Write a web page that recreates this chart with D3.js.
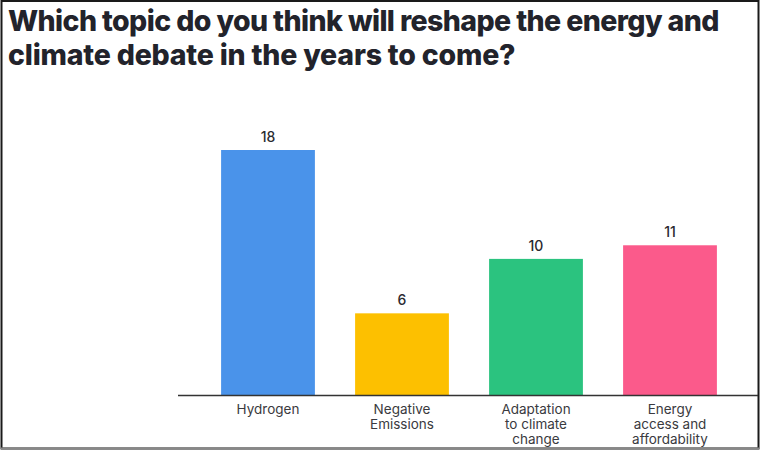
<!DOCTYPE html>
<html><head><meta charset="utf-8">
<script src="https://cdn.jsdelivr.net/npm/d3@7"></script>
<style>html,body{margin:0;padding:0;background:#fff;}</style>
</head><body>
<script>
const titleLines = ["Which topic do you think will reshape the energy and", "climate debate in the years to come?"];
const categories = [["Hydrogen"], ["Negative", "Emissions"], ["Adaptation", "to climate", "change"], ["Energy", "access and", "affordability"]];
const values = [18, 6, 10, 11];
const colors = ["#4a93ea", "#fdc000", "#2bc37f", "#fb5a8b"];

const W = 761, H = 451;
const svg = d3.select("body").append("svg").attr("width", W).attr("height", H);
svg.append("rect").attr("width", W).attr("height", H).attr("fill", "#fff");
// frame
svg.append("rect").attr("x", 1.5).attr("y", 1).attr("width", 757).attr("height", 447.5)
  .attr("fill", "none").attr("stroke", "#1a1a1a").attr("stroke-width", 2);
svg.append("line").attr("x1", 1).attr("x2", 759).attr("y1", 448.5).attr("y2", 448.5).attr("stroke", "#888").attr("stroke-width", 2);

const spacing = [-0.6, -0.2];
const title = svg.append("g");
titleLines.forEach((t, i) => {
  title.append("text").attr("x", 8).attr("y", 31 + i * 34)
    .attr("font-family", "Inter, 'Noto Sans', sans-serif").attr("font-weight", 800)
    .attr("font-size", 28.5).attr("letter-spacing", spacing[i]).attr("fill", "#22232b")
    .text(t);
});

const baseY = 395;
const x = d3.scaleBand().domain(d3.range(values.length)).range([201, 737]).paddingInner(0.3).paddingOuter(0.15);
const y = d3.scaleLinear().domain([0, 18]).range([baseY, 150]);

svg.selectAll("rect.bar").data(values).join("rect").attr("class", "bar")
  .attr("x", (d, i) => x(i)).attr("width", x.bandwidth())
  .attr("y", d => y(d)).attr("height", d => baseY - y(d))
  .attr("fill", (d, i) => colors[i]);

svg.selectAll("text.val").data(values).join("text").attr("class", "val")
  .attr("x", (d, i) => x(i) + x.bandwidth() / 2).attr("y", d => y(d) - 8)
  .attr("text-anchor", "middle").attr("font-family", "Inter, 'Noto Sans', sans-serif")
  .attr("font-size", 14).attr("font-weight", 500).attr("fill", "#2a2a30").text(d => d);

svg.append("line").attr("x1", 178).attr("x2", 758).attr("y1", baseY + 0.5).attr("y2", baseY + 0.5)
  .attr("stroke", "#333").attr("stroke-width", 1.5);

categories.forEach((lines, i) => {
  const t = svg.append("text").attr("text-anchor", "middle")
    .attr("font-family", "Inter, 'Noto Sans', sans-serif").attr("font-size", 13.5)
    .attr("fill", "#3a3a40");
  lines.forEach((l, j) => {
    t.append("tspan").attr("x", x(i) + x.bandwidth() / 2).attr("y", 414 + j * 15).text(l);
  });
});
</script>
</body></html>
